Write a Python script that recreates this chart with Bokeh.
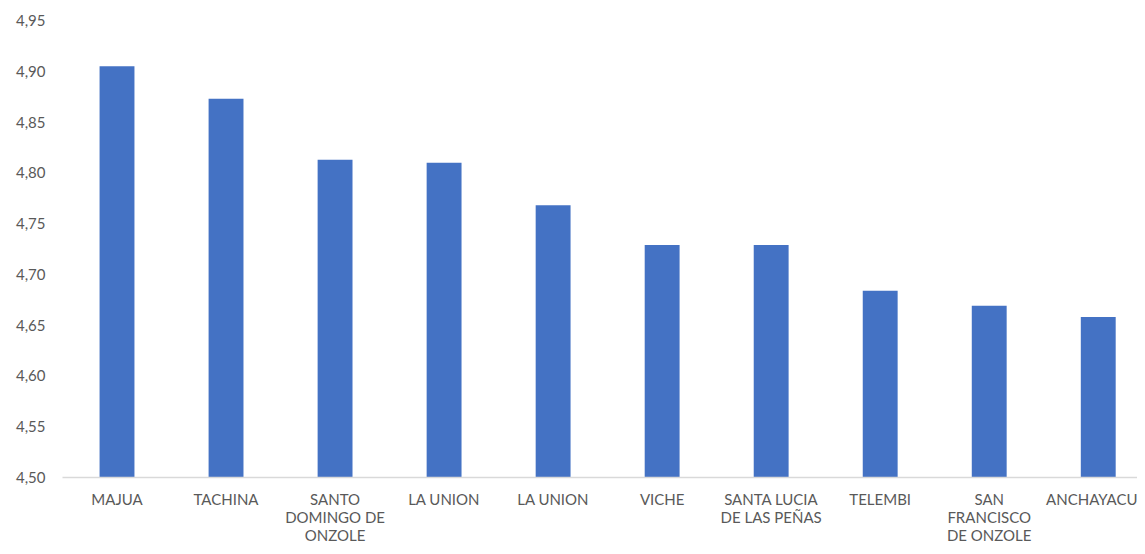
from bokeh.plotting import figure
from bokeh.models import ColumnDataSource, Range1d, FixedTicker, CustomJSTickFormatter
from bokeh.embed import file_html
from bokeh.resources import INLINE

categories = ["MAJUA", "TACHINA", "SANTO\nDOMINGO DE\nONZOLE", "LA UNION", "LA UNION",
              "VICHE", "SANTA LUCIA\nDE LAS PEÑAS", "TELEMBI", "SAN\nFRANCISCO\nDE ONZOLE",
              "ANCHAYACU"]
values = [4.905, 4.873, 4.813, 4.810, 4.768, 4.729, 4.729, 4.684, 4.669, 4.658]
y_ticks = [4.50, 4.55, 4.60, 4.65, 4.70, 4.75, 4.80, 4.85, 4.90, 4.95]

xs = list(range(len(categories)))
src = ColumnDataSource(dict(x=xs, top=values))

p = figure(width=1137, height=546, output_backend="svg", toolbar_location=None,
           x_range=Range1d(-0.5, 9.36), y_range=Range1d(4.50, 4.95),
           min_border_left=62, min_border_right=0, min_border_top=20, min_border_bottom=69)
p.outline_line_color = None
p.background_fill_color = "white"
p.border_fill_color = "white"

p.vbar(x="x", top="top", bottom=4.50, width=0.32, source=src,
       fill_color="#4472C4", line_color=None)

p.xgrid.grid_line_color = None
p.ygrid.grid_line_color = None

p.xaxis.ticker = FixedTicker(ticks=xs)
p.xaxis.major_label_overrides = {i: c for i, c in zip(xs, categories)}
p.xaxis.axis_line_color = "#d9d9d9"
p.xaxis.axis_line_width = 1.5
p.xaxis.major_tick_line_color = None
p.xaxis.major_tick_out = 0
p.xaxis.major_tick_in = 0
p.xaxis.minor_tick_line_color = None
p.xaxis.minor_tick_out = 0
p.xaxis.major_label_text_font = "Lato"
p.xaxis.major_label_text_font_size = "15px"
p.xaxis.major_label_text_color = "#595959"
p.xaxis.major_label_standoff = 12
p.xaxis.major_label_text_line_height = 1.0

p.yaxis.ticker = FixedTicker(ticks=y_ticks)
p.yaxis.formatter = CustomJSTickFormatter(code="return tick.toFixed(2).replace('.', ',');")
p.yaxis.axis_line_color = None
p.yaxis.major_tick_line_color = None
p.yaxis.major_tick_out = 0
p.yaxis.major_tick_in = 0
p.yaxis.minor_tick_line_color = None
p.yaxis.minor_tick_out = 0
p.yaxis.major_label_text_font = "Lato"
p.yaxis.major_label_text_font_size = "15px"
p.yaxis.major_label_text_color = "#595959"
p.yaxis.major_label_standoff = 17

open("out.html", "w").write(file_html(p, INLINE))
